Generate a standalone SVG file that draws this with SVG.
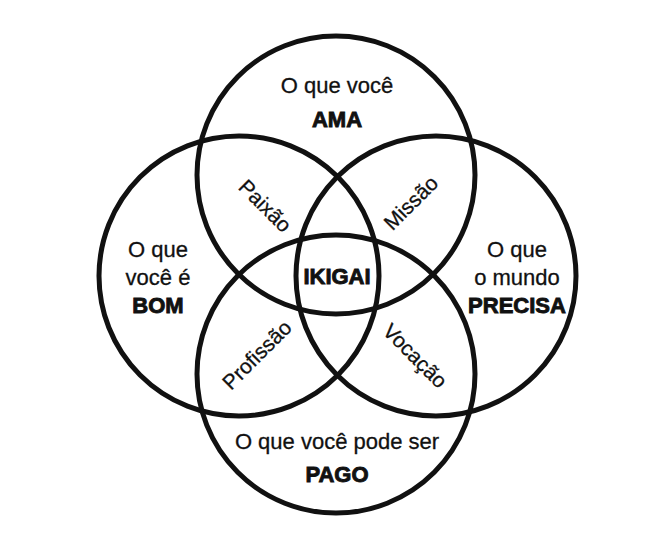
<svg xmlns="http://www.w3.org/2000/svg" width="652" height="558" viewBox="0 0 652 558">
<style>
.c{fill:none;stroke:#111;stroke-width:5}
.t{font-family:"Liberation Sans",Arial,sans-serif;font-size:22px;fill:#111;text-anchor:middle;stroke:#111;stroke-width:0.3}
.b{font-weight:bold;stroke-width:0.9}
.r{font-size:21px}
</style>
<rect width="652" height="558" fill="#fff"/>
<g id="connectors"></g>
<g id="circle-ama"><circle class="c" cx="336" cy="175" r="139"/></g>
<g id="circle-bom"><circle class="c" cx="239" cy="276" r="140"/></g>
<g id="circle-precisa"><circle class="c" cx="436" cy="276" r="140"/></g>
<g id="circle-pago"><circle class="c" cx="336" cy="374" r="139"/></g>
<g id="label-ama"><text class="t" x="337" y="93">O que você</text><text class="t b" x="337" y="127">AMA</text></g>
<g id="label-bom"><text class="t" x="158" y="257">O que</text><text class="t" x="158" y="285">você é</text><text class="t b" x="158" y="313">BOM</text></g>
<g id="label-precisa"><text class="t" x="517" y="257">O que</text><text class="t" x="517" y="285">o mundo</text><text class="t b" x="517" y="313">PRECISA</text></g>
<g id="label-pago"><text class="t" x="337" y="449">O que você pode ser</text><text class="t b" x="337" y="482">PAGO</text></g>
<g id="ikigai"><text class="t b" x="337" y="284">IKIGAI</text></g>
<g id="paixao" transform="translate(265,206) rotate(45)"><text class="t r" x="0" y="7">Paixão</text></g>
<g id="missao" transform="translate(411,203) rotate(-45)"><text class="t r" x="0" y="7">Missão</text></g>
<g id="profissao" transform="translate(257,355) rotate(-45)"><text class="t r" x="0" y="7">Profissão</text></g>
<g id="vocacao" transform="translate(415,356) rotate(45)"><text class="t r" x="0" y="7">Vocação</text></g>
</svg>
